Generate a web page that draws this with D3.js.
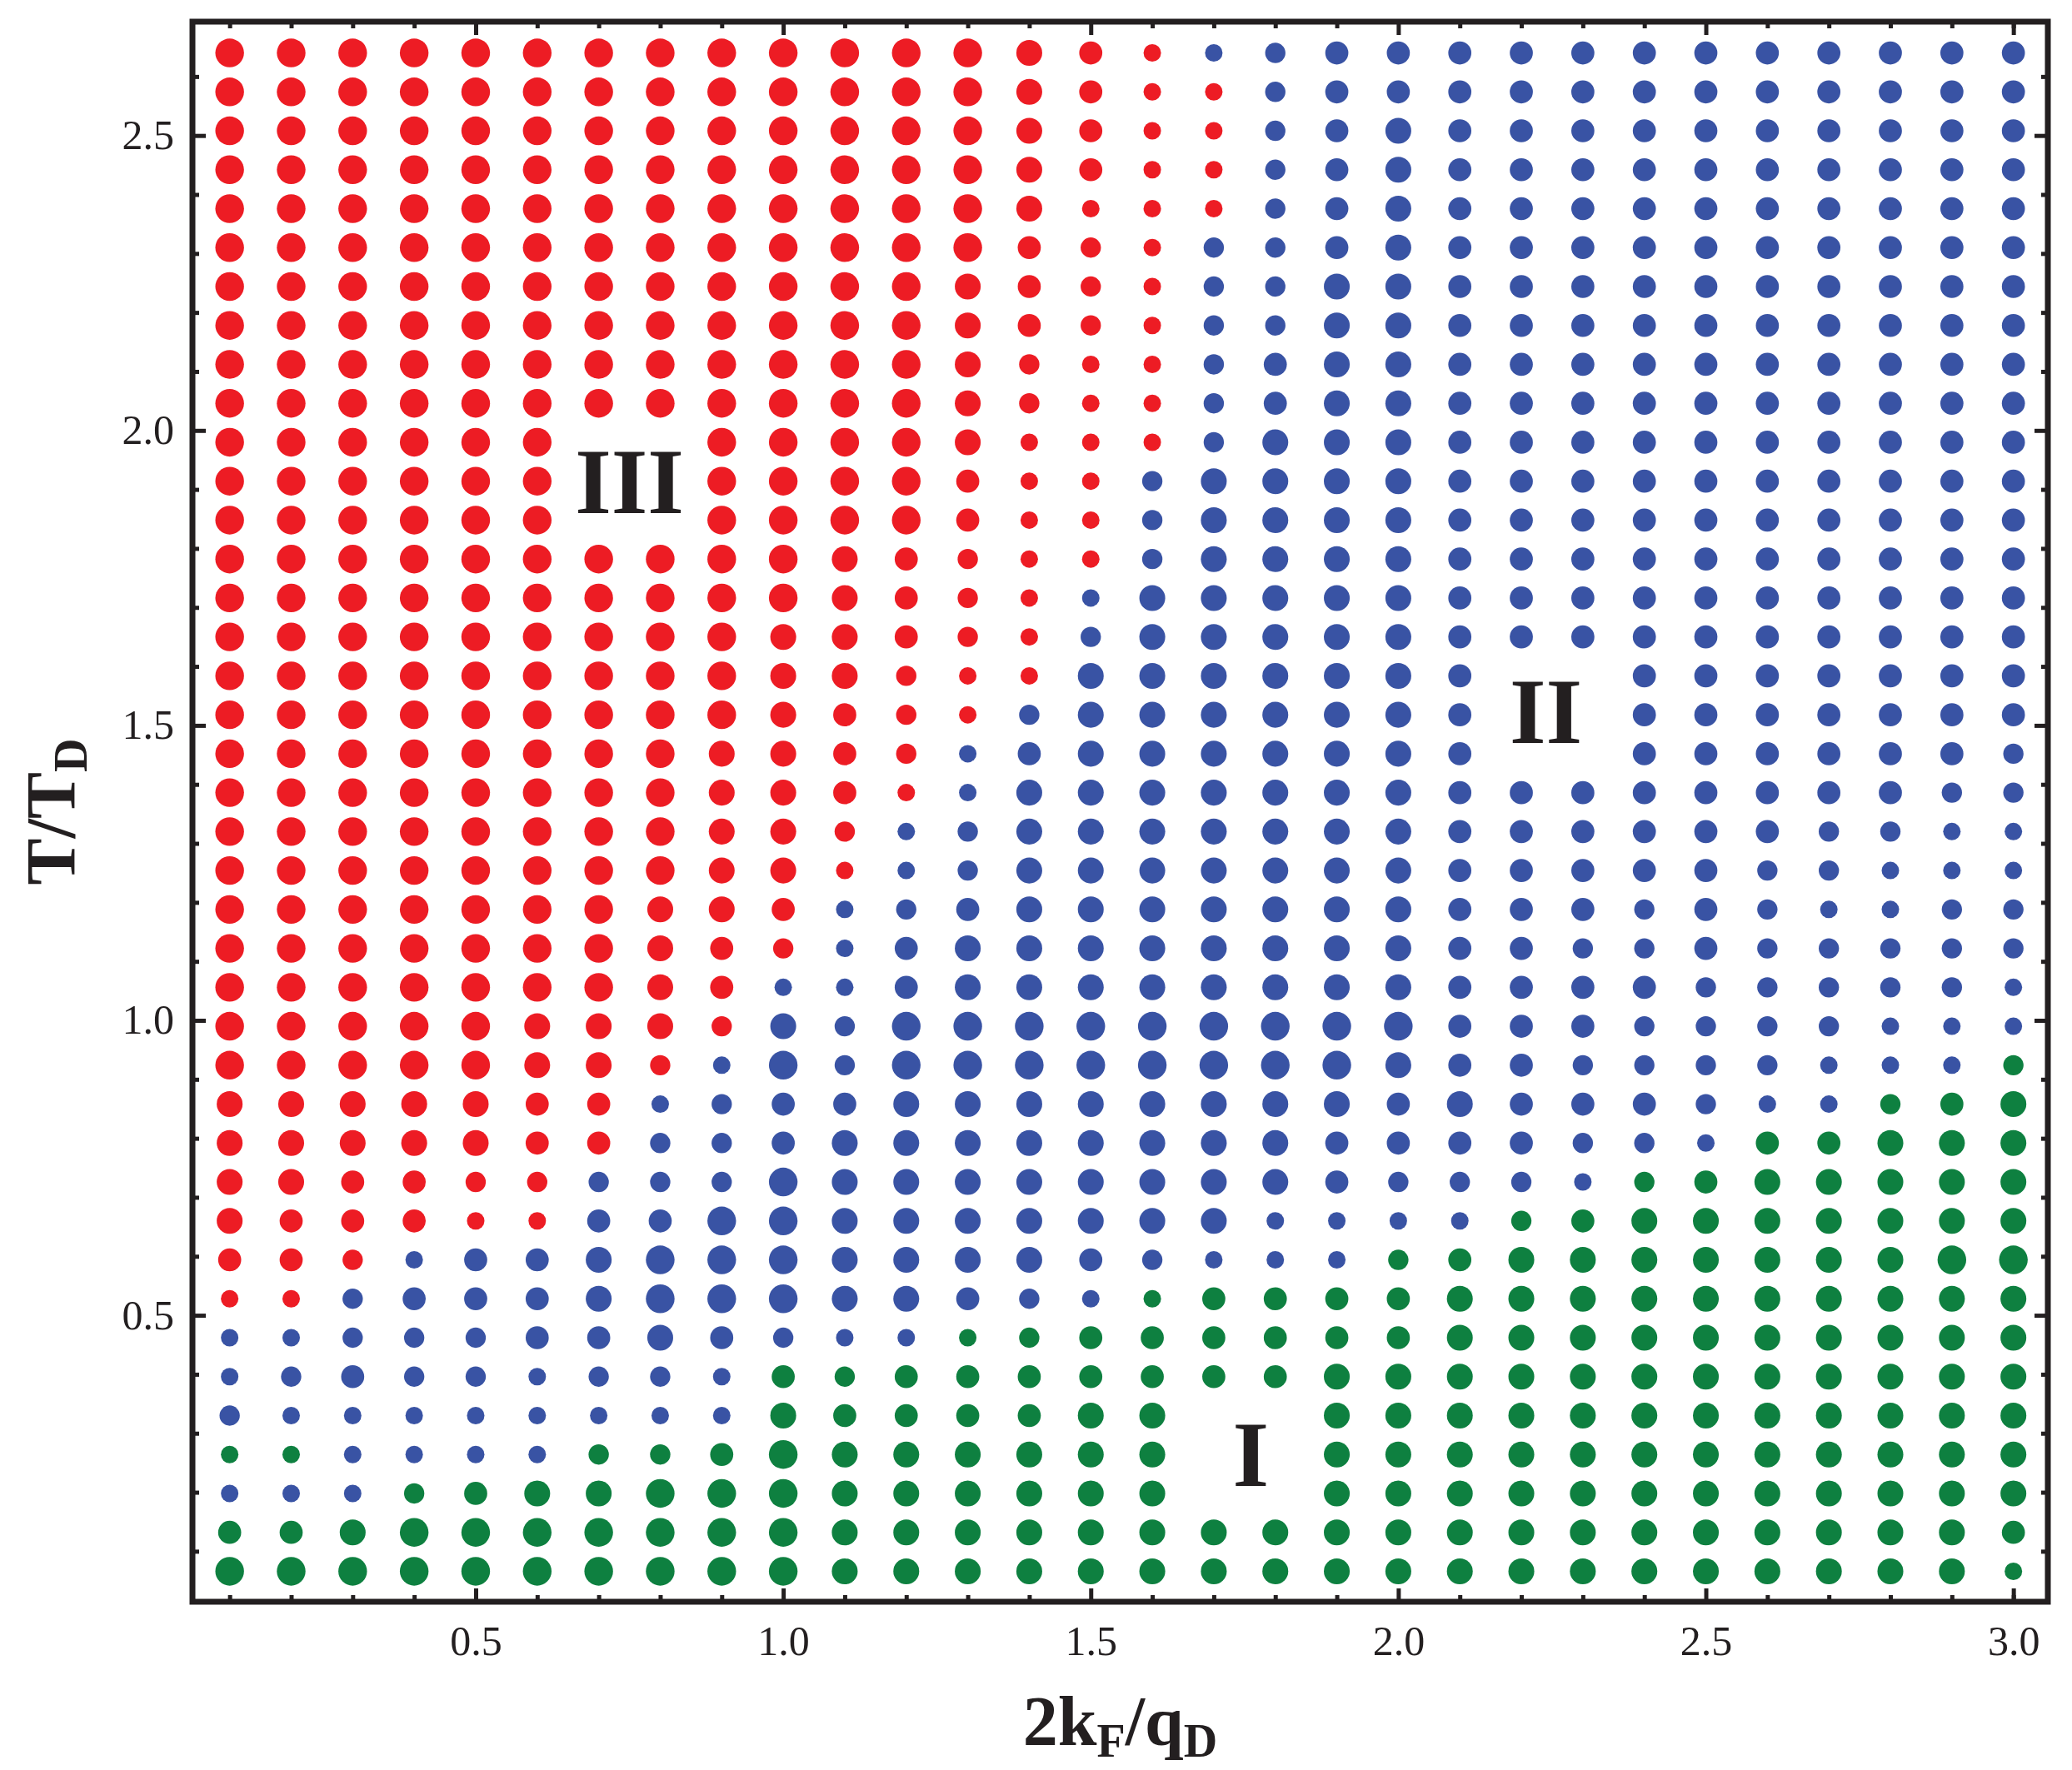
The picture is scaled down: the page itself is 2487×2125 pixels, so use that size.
<!DOCTYPE html>
<html>
<head>
<meta charset="utf-8">
<script src="https://cdn.jsdelivr.net/npm/d3@7"></script>
<style>
  body { margin: 0; background: #fff; }
  text { font-family: "Liberation Serif", "DejaVu Serif", serif; }
</style>
</head>
<body>
<div id="chart"></div>
<script>
var svgWidth = 2487;
var svgHeight = 2125;

// x values (2kF/qD), columns
var xValues = [0.1, 0.2, 0.3, 0.4, 0.5, 0.6, 0.7, 0.8, 0.9, 1.0,
  1.1, 1.2, 1.3, 1.4, 1.5, 1.6, 1.7, 1.8, 1.9, 2.0,
  2.1, 2.2, 2.3, 2.4, 2.5, 2.6, 2.7, 2.8, 2.9, 3.0];

// T/TD values, rows from top to bottom
var tValues = [2.64, 2.574, 2.508, 2.442, 2.376, 2.31, 2.244, 2.178, 2.112, 2.046,
  1.98, 1.914, 1.848, 1.782, 1.716, 1.65, 1.584, 1.518, 1.452, 1.386,
  1.32, 1.254, 1.188, 1.122, 1.056, 0.99, 0.924, 0.858, 0.792, 0.726,
  0.66, 0.594, 0.528, 0.462, 0.396, 0.33, 0.264, 0.198, 0.132, 0.066];

// phase per cell: R = III, B = II, G = I, "." = no point
var phaseRows = [
  "RRRRRRRRRR" + "RRRRRRBBBB" + "BBBBBBBBBB",
  "RRRRRRRRRR" + "RRRRRRRBBB" + "BBBBBBBBBB",
  "RRRRRRRRRR" + "RRRRRRRBBB" + "BBBBBBBBBB",
  "RRRRRRRRRR" + "RRRRRRRBBB" + "BBBBBBBBBB",
  "RRRRRRRRRR" + "RRRRRRRBBB" + "BBBBBBBBBB",
  "RRRRRRRRRR" + "RRRRRRBBBB" + "BBBBBBBBBB",
  "RRRRRRRRRR" + "RRRRRRBBBB" + "BBBBBBBBBB",
  "RRRRRRRRRR" + "RRRRRRBBBB" + "BBBBBBBBBB",
  "RRRRRRRRRR" + "RRRRRRBBBB" + "BBBBBBBBBB",
  "RRRRRRRRRR" + "RRRRRRBBBB" + "BBBBBBBBBB",
  "RRRRRR..RR" + "RRRRRRBBBB" + "BBBBBBBBBB",
  "RRRRRR..RR" + "RRRRRBBBBB" + "BBBBBBBBBB",
  "RRRRRR..RR" + "RRRRRBBBBB" + "BBBBBBBBBB",
  "RRRRRRRRRR" + "RRRRRBBBBB" + "BBBBBBBBBB",
  "RRRRRRRRRR" + "RRRRBBBBBB" + "BBBBBBBBBB",
  "RRRRRRRRRR" + "RRRRBBBBBB" + "BBBBBBBBBB",
  "RRRRRRRRRR" + "RRRRBBBBBB" + "B..BBBBBBB",
  "RRRRRRRRRR" + "RRRBBBBBBB" + "B..BBBBBBB",
  "RRRRRRRRRR" + "RRBBBBBBBB" + "B..BBBBBBB",
  "RRRRRRRRRR" + "RRBBBBBBBB" + "BBBBBBBBBB",
  "RRRRRRRRRR" + "RBBBBBBBBB" + "BBBBBBBBBB",
  "RRRRRRRRRR" + "RBBBBBBBBB" + "BBBBBBBBBB",
  "RRRRRRRRRR" + "BBBBBBBBBB" + "BBBBBBBBBB",
  "RRRRRRRRRR" + "BBBBBBBBBB" + "BBBBBBBBBB",
  "RRRRRRRRRB" + "BBBBBBBBBB" + "BBBBBBBBBB",
  "RRRRRRRRRB" + "BBBBBBBBBB" + "BBBBBBBBBB",
  "RRRRRRRRBB" + "BBBBBBBBBB" + "BBBBBBBBBG",
  "RRRRRRRBBB" + "BBBBBBBBBB" + "BBBBBBBGGG",
  "RRRRRRRBBB" + "BBBBBBBBBB" + "BBBBBGGGGG",
  "RRRRRRBBBB" + "BBBBBBBBBB" + "BBBGGGGGGG",
  "RRRRRRBBBB" + "BBBBBBBBBB" + "BGGGGGGGGG",
  "RRRBBBBBBB" + "BBBBBBBBBG" + "GGGGGGGGGG",
  "RRBBBBBBBB" + "BBBBBGGGGG" + "GGGGGGGGGG",
  "BBBBBBBBBB" + "BBGGGGGGGG" + "GGGGGGGGGG",
  "BBBBBBBBBG" + "GGGGGGGGGG" + "GGGGGGGGGG",
  "BBBBBBBBBG" + "GGGGGG..GG" + "GGGGGGGGGG",
  "GGBBBBGGGG" + "GGGGGG..GG" + "GGGGGGGGGG",
  "BBBGGGGGGG" + "GGGGGG..GG" + "GGGGGGGGGG",
  "GGGGGGGGGG" + "GGGGGGGGGG" + "GGGGGGGGGG",
  "GGGGGGGGGG" + "GGGGGGGGGG" + "GGGGGGGGGG"
];

// point size level per cell (1 small .. 5 large)
var sizeRows = [
  "5555555555" + "5554311233" + "3333333333",
  "5555555555" + "5554311233" + "3333333333",
  "5555555555" + "5554311234" + "3333333333",
  "5555555555" + "5554311234" + "3333333333",
  "5555555555" + "5554111234" + "3333333333",
  "5555555555" + "5553212234" + "3333333333",
  "5555555555" + "5543212244" + "3333333333",
  "5555555555" + "5543212244" + "3333333333",
  "5555555555" + "5542112344" + "3333333333",
  "5555555555" + "5542112344" + "3333333333",
  "555555..55" + "5541112444" + "3333333333",
  "555555..55" + "5531124444" + "3333333333",
  "555555..55" + "5531124444" + "3333333333",
  "5555555555" + "4321124444" + "3333333333",
  "5555555555" + "4321144444" + "3333333333",
  "5555555554" + "4321244444" + "3333333333",
  "5555555554" + "4211444444" + "3..3333333",
  "5555555554" + "3212444444" + "3..3333333",
  "5555555544" + "3213444444" + "3..3333332",
  "5555555544" + "3114444444" + "3333333322",
  "5555555544" + "2124444444" + "3333332211",
  "5555555544" + "1124444444" + "3333322111",
  "5555555443" + "1234444444" + "3332321122",
  "5555555432" + "1344444444" + "3322322222",
  "5555555431" + "1344444444" + "3333222221",
  "5555544424" + "2555555555" + "3332222111",
  "5555544215" + "2555555554" + "3322221112",
  "4444433123" + "3444444443" + "4333211234",
  "4444433223" + "4444444433" + "3322133444",
  "4433222225" + "4444444432" + "2212344444",
  "4333113355" + "4444444111" + "1234444444",
  "3321334555" + "4444321112" + "3444444455",
  "1123334555" + "4432113333" + "4444444444",
  "1122233432" + "1112333333" + "4444444444",
  "1232212213" + "2333333344" + "4444444444",
  "2111111114" + "333344..44" + "4444444444",
  "1111112235" + "444444..44" + "4444444444",
  "1112344555" + "444444..44" + "4444444444",
  "3345555555" + "4444444444" + "4444444443",
  "5555555555" + "4444444444" + "4444444441"
];

var phaseColors = { R: "#ed1c24", B: "#3953a4", G: "#0e8040" };

var regionLabels = ["III", "II", "I"];
var regionX = [0.75, 2.24, 1.76];
var regionY = [1.86, 1.47, 0.21];

var xTicks = [0.5, 1.0, 1.5, 2.0, 2.5, 3.0];
var yTicks = [0.5, 1.0, 1.5, 2.0, 2.5];
var minorTicks = [0.1, 0.2, 0.3, 0.4, 0.6, 0.7, 0.8, 0.9, 1.1, 1.2, 1.3, 1.4, 1.6, 1.7, 1.8, 1.9,
  2.1, 2.2, 2.3, 2.4, 2.6, 2.7, 2.8, 2.9, 3.0];

var margin = { top: 26, right: 29, left: 231, bottom: 202 };
var width = svgWidth - margin.left - margin.right;
var height = svgHeight - margin.top - margin.bottom;

var data = [];
phaseRows.forEach(function(row, i) {
  for (var j = 0; j < row.length; j++) {
    if (row[j] === ".") continue;
    data.push({ x: xValues[j], t: tValues[i], phase: row[j], size: +sizeRows[i][j] });
  }
});

var svg = d3.select("#chart")
  .append("svg")
  .attr("width", svgWidth)
  .attr("height", svgHeight);

var chartGroup = svg.append("g")
  .attr("transform", `translate(${margin.left}, ${margin.top})`);

var x = d3.scaleLinear().domain([0.0395, 3.056]).range([0, width]);
var y = d3.scaleLinear().domain([0.0144, 2.693]).range([height, 0]);
var r = d3.scaleLinear().domain([1, 5]).range([10.5, 17.2]);

chartGroup.selectAll("circle")
  .data(data)
  .enter()
  .append("circle")
  .attr("cx", d => x(d.x))
  .attr("cy", d => y(d.t))
  .attr("r", d => r(d.size))
  .style("fill", d => phaseColors[d.phase]);

// ticks on all four sides, pointing in
function styleAxis(g) {
  g.select(".domain").remove();
  g.selectAll("line").attr("stroke", "#231f20").attr("stroke-width", 5);
  g.selectAll("text").attr("font-size", 50).attr("fill", "#231f20")
    .style("font-family", "'Liberation Serif', serif");
}

chartGroup.append("g").attr("transform", `translate(0, ${height})`)
  .call(d3.axisBottom(x).tickValues(xTicks).tickSize(-16).tickPadding(28).tickFormat(d3.format(".1f")))
  .call(styleAxis);
chartGroup.append("g").attr("transform", `translate(0, ${height})`)
  .call(d3.axisBottom(x).tickValues(minorTicks).tickSize(-8).tickFormat(""))
  .call(styleAxis);
chartGroup.append("g")
  .call(d3.axisTop(x).tickValues(xTicks).tickSize(-16).tickFormat(""))
  .call(styleAxis);
chartGroup.append("g")
  .call(d3.axisTop(x).tickValues(minorTicks).tickSize(-8).tickFormat(""))
  .call(styleAxis);

var yMinor = d3.range(1, 27).map(k => k / 10).filter(v => Math.abs(v * 2 - Math.round(v * 2)) > 1e-6);
chartGroup.append("g")
  .call(d3.axisLeft(y).tickValues(yTicks).tickSize(-16).tickPadding(22).tickFormat(d3.format(".1f")))
  .call(styleAxis);
chartGroup.append("g")
  .call(d3.axisLeft(y).tickValues(yMinor).tickSize(-8).tickFormat(""))
  .call(styleAxis);
chartGroup.append("g").attr("transform", `translate(${width}, 0)`)
  .call(d3.axisRight(y).tickValues(yTicks).tickSize(-16).tickFormat(""))
  .call(styleAxis);
chartGroup.append("g").attr("transform", `translate(${width}, 0)`)
  .call(d3.axisRight(y).tickValues(yMinor).tickSize(-8).tickFormat(""))
  .call(styleAxis);

chartGroup.append("rect")
  .attr("width", width)
  .attr("height", height)
  .attr("fill", "none")
  .attr("stroke", "#231f20")
  .attr("stroke-width", 7);

// region labels
chartGroup.selectAll(".region")
  .data(regionLabels)
  .enter()
  .append("text")
  .attr("class", "region")
  .attr("x", (d, i) => x(regionX[i]))
  .attr("y", (d, i) => y(regionY[i]))
  .attr("text-anchor", "middle")
  .attr("font-size", 112)
  .attr("font-weight", "bold")
  .attr("fill", "#231f20")
  .text(d => d);

// axis titles
var xTitle = svg.append("text")
  .attr("x", margin.left + width / 2)
  .attr("y", 2095)
  .attr("text-anchor", "middle")
  .attr("font-size", 84)
  .attr("font-weight", "bold")
  .attr("fill", "#231f20");
xTitle.append("tspan").text("2k");
xTitle.append("tspan").attr("font-size", 56).attr("dy", 14).text("F");
xTitle.append("tspan").attr("dy", -14).text("/q");
xTitle.append("tspan").attr("font-size", 56).attr("dy", 14).text("D");

var yTitle = svg.append("text")
  .attr("transform", `translate(90, ${margin.top + height / 2}) rotate(-90)`)
  .attr("text-anchor", "middle")
  .attr("font-size", 84)
  .attr("font-weight", "bold")
  .attr("fill", "#231f20");
yTitle.append("tspan").text("T/T");
yTitle.append("tspan").attr("font-size", 56).attr("dy", 14).text("D");
</script>
</body>
</html>
